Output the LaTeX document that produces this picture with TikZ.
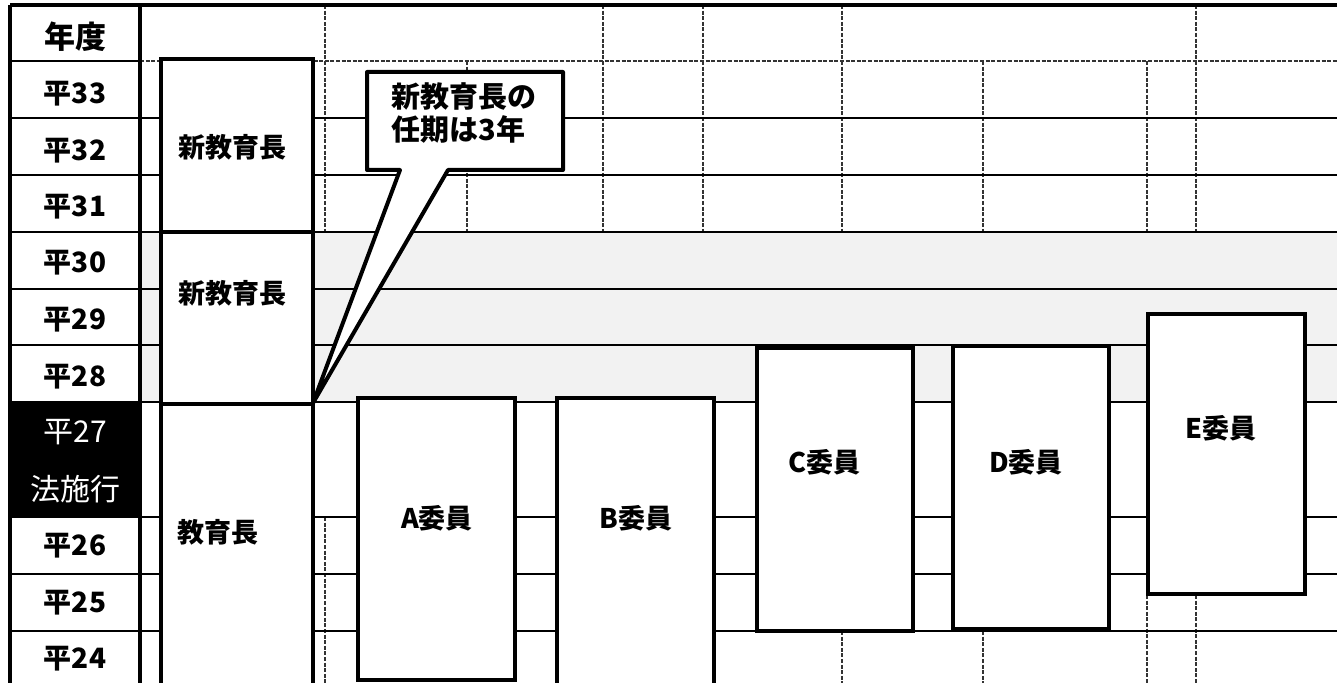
\documentclass[tikz,border=0pt]{standalone}
\usepackage{fontspec}
\usetikzlibrary{fit}
\newfontfamily\jp{Noto Sans CJK JP}
\begin{document}
\begin{tikzpicture}[x=0.5pt,y=-0.5pt,
  gridline/.style={line width=1pt},
  leftline/.style={line width=1.4pt},
  dashline/.style={line width=0.6pt, dash pattern=on 2pt off 0.8pt, black!80},
  frame/.style={line width=1.6pt},
  boxnode/.style={draw, line width=2.3pt, fill=white, inner sep=0pt},
  yearlbl/.style={font=\jp\bfseries\fontsize{14}{16}\selectfont, inner sep=0pt},
  headlbl/.style={font=\jp\bfseries\fontsize{15.5}{17}\selectfont, inner sep=0pt},
  whitelbl/.style={font=\jp\fontsize{15}{17}\selectfont, text=white, inner sep=0pt},
  boxlbl/.style={font=\jp\bfseries\fontsize{13.5}{15}\selectfont, inner sep=0pt},
  calllbl/.style={font=\jp\bfseries\fontsize{14.5}{16.5}\selectfont, align=left, inner sep=0pt}
]
\useasboundingbox (0,0) rectangle (1337,683);
\fill[white] (0,0) rectangle (1337,683);
% shaded band (rows H30-H28)
\fill[black!5] (140,232) rectangle (1337,402);
% vertical dashed grid lines
\foreach \x/\a/\b in {325/5/232, 325/517/683, 467/61/232, 603/5/232, 703/5/232,
  842/5/232, 842/631/683, 983/61/232, 983/631/683, 1147/61/232, 1147/595/683,
  1196/5/232, 1196/595/683}
  \draw[dashline] (\x,\a) -- (\x,\b);
% horizontal grid lines
\draw[line width=1.6pt] (10,5) -- (1337,5);
\draw[dashline] (140,61) -- (1337,61);
\foreach \y in {118,175,232,289,345,402,517,574,631}
  \draw[gridline] (140,\y) -- (1337,\y);
% left year column
\fill[black] (10,402) rectangle (140,517);
\foreach \y in {61,118,175,232,289,345,402,517,574,631}
  \draw[leftline] (10,\y) -- (140,\y);
\draw[frame] (10,683) -- (10,5);
\draw[frame] (140,5) -- (140,683);
\node[headlbl] (y0) at (75,37) {年度};
\node[yearlbl] (y33) at (75,94) {平33};
\node[yearlbl] (y32) at (75,151) {平32};
\node[yearlbl] (y31) at (75,207) {平31};
\node[yearlbl] (y30) at (75,263) {平30};
\node[yearlbl] (y29) at (75,320) {平29};
\node[yearlbl] (y28) at (75,377) {平28};
\node[whitelbl] (y27) at (75,432) {平27};
\node[whitelbl] (law) at (75,489) {法施行};
\node[yearlbl] (y26) at (75,546) {平26};
\node[yearlbl] (y25) at (75,603) {平25};
\node[yearlbl] (y24) at (75,659) {平24};
% term boxes
\node[boxnode, fit={(161,59) (313,232)}] (nk1) {};
\node[boxnode, fit={(161,232) (313,404)}] (nk2) {};
\node[boxnode, fit={(161,404) (313,692)}] (kyo) {};
\node[boxnode, fit={(358,398) (515,680)}] (bA) {};
\node[boxnode, fit={(557,398) (714,692)}] (bB) {};
\node[boxnode, fit={(757,348) (913,631)}] (bC) {};
\node[boxnode, fit={(953,346) (1109,629)}] (bD) {};
\node[boxnode, fit={(1148,314) (1305,594)}] (bE) {};
\node[boxlbl] (tnk1) at (232,147) {新教育長};
\node[boxlbl] (tnk2) at (232,293) {新教育長};
\node[boxlbl] (tkyo) at (218,532) {教育長};
\node[boxlbl] (tA) at (437,518) {A委員};
\node[boxlbl] (tB) at (636,518) {B委員};
\node[boxlbl] (tC) at (824,462) {C委員};
\node[boxlbl] (tD) at (1026,462) {D委員};
\node[boxlbl] (tE) at (1221,428) {E委員};
% callout
\coordinate (tip) at (313,403);
\draw[line width=2pt, fill=white, line join=round]
  (367,72) -- (563,72) -- (563,170) -- (448,170) -- (tip) -- (400,170) -- (367,170) -- cycle;
\node[calllbl] (call) at (464,113) {新教育長の\\任期は3年};
\end{tikzpicture}
\end{document}
